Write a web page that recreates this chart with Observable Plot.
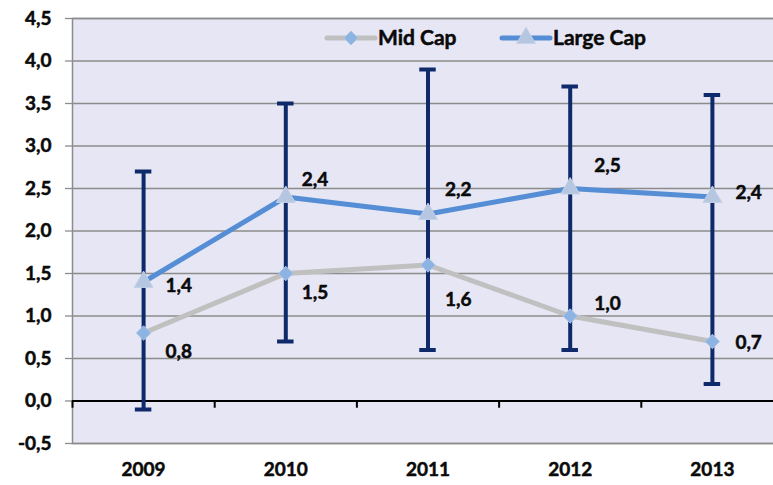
<!DOCTYPE html>
<html><head><meta charset="utf-8">
<script src="https://cdn.jsdelivr.net/npm/d3@7"></script>
<script src="https://cdn.jsdelivr.net/npm/@observablehq/plot@0.6"></script>
<style>
body{margin:0;background:#fff;font-family:Lato,"DejaVu Sans",sans-serif;}
#wrap{position:relative;width:773px;height:485px;overflow:hidden;}
#legend{position:absolute;left:0;top:0;pointer-events:none;}
</style></head><body><div id="wrap"></div>
<script>
const years = ["2009", "2010", "2011", "2012", "2013"];
const midCap = [0.8, 1.5, 1.6, 1.0, 0.7];
const largeCap = [1.4, 2.4, 2.2, 2.5, 2.4];
const rangeLow = [-0.1, 0.7, 0.6, 0.6, 0.2];
const rangeHigh = [2.7, 3.5, 3.9, 3.7, 3.6];
const yTicks = [-0.5, 0, 0.5, 1, 1.5, 2, 2.5, 3, 3.5, 4, 4.5];
const seriesNames = ["Mid Cap", "Large Cap"];

// label placement (pixels) – layout only
const midOffsets = [[22, 19], [16, 19], [17, 35], [24, -12], [23, 1]];
const largeOffsets = [[22, 4], [16, -17], [17, -24], [24, -23], [23, -4]];

const table = years.map((y, i) => ({i, year: y, mid: midCap[i], large: largeCap[i], lo: rangeLow[i], hi: rangeHigh[i]}));
const fmt = v => d3.format(".1f")(v).replace(".", ",").replace("−", "-");

const navy = "#0e2a6a", grey = "#c0c0c0", blue = "#558ed5", gridC = "#8c8c8c";
const ink = "#0a0a0a";

const labelMarks = [];
table.forEach((d, k) => {
  labelMarks.push(Plot.text([d], {x: "i", y: "mid", text: r => fmt(r.mid), dx: midOffsets[k][0], dy: midOffsets[k][1], textAnchor: "start", fontSize: 19, fontWeight: 700, fill: ink, stroke: ink, strokeWidth: 0.5}));
  labelMarks.push(Plot.text([d], {x: "i", y: "large", text: r => fmt(r.large), dx: largeOffsets[k][0], dy: largeOffsets[k][1], textAnchor: "start", fontSize: 19, fontWeight: 700, fill: ink, stroke: ink, strokeWidth: 0.5}));
});

const chart = Plot.plot({
  width: 773, height: 485,
  marginLeft: 72, marginRight: -10, marginTop: 18, marginBottom: 42,
  style: {fontFamily: "Lato, sans-serif", background: "transparent", overflow: "visible"},
  x: {domain: [-0.5, 4.5], axis: null},
  y: {domain: [-0.5, 4.5], axis: null},
  marks: [
    Plot.frame({fill: "#e6e6f4", stroke: gridC, strokeWidth: 1.5}),
    Plot.ruleY(yTicks.filter(v => v !== 0), {stroke: gridC, strokeWidth: 1.3}),
    Plot.axisY(yTicks, {label: null, tickSize: 7, tickPadding: 14, tickFormat: fmt, stroke: gridC, strokeWidth: 1.3, fontSize: 19, fontWeight: 700, fill: ink}),
    Plot.axisX([0, 1, 2, 3, 4], {label: null, tickSize: 0, tickPadding: 19, tickFormat: i => years[i], fontSize: 19, fontWeight: 700, fill: ink}),
    Plot.ruleY([0], {stroke: "#000", strokeWidth: 2}),
    Plot.ruleX([-0.5, 0.5, 1.5, 2.5, 3.5], {y1: 0, y2: -0.085, stroke: "#000", strokeWidth: 2}),
    Plot.ruleX(table, {x: "i", y1: "lo", y2: "hi", stroke: navy, strokeWidth: 4}),
    Plot.ruleY(table, {y: "hi", x1: d => d.i - 0.058, x2: d => d.i + 0.058, stroke: navy, strokeWidth: 4}),
    Plot.ruleY(table, {y: "lo", x1: d => d.i - 0.058, x2: d => d.i + 0.058, stroke: navy, strokeWidth: 4}),
    Plot.line(table, {x: "i", y: "mid", stroke: grey, strokeWidth: 5}),
    Plot.line(table, {x: "i", y: "large", stroke: blue, strokeWidth: 5}),
    Plot.dot(table, {x: "i", y: "mid", symbol: "diamond2", r: 6.5, fill: "#8db3e2", stroke: "#a9c4e8", strokeWidth: 1}),
    Plot.dot(table, {x: "i", y: "large", symbol: "triangle", r: 7, fill: "#b5c6e0", stroke: "#c3d0e6", strokeWidth: 1}),
    ...labelMarks
  ]
});
// thicken axis label glyphs slightly to match heavy reference type
d3.select(chart).selectAll("g[aria-label$='tick label'] text, g[aria-label='y-axis tick label'], g[aria-label='x-axis tick label']").attr("stroke", ink).attr("stroke-width", 0.5);
const wrap = document.getElementById("wrap");
wrap.appendChild(chart);

// legend overlay inside plot area
const leg = d3.select(wrap).append("svg").attr("id", "legend").attr("width", 773).attr("height", 485);
const items = [
  {name: seriesNames[0], x0: 327, color: grey, sym: "diamond"},
  {name: seriesNames[1], x0: 502, color: blue, sym: "triangle"}
];
items.forEach(it => {
  leg.append("line").attr("x1", it.x0).attr("x2", it.x0 + 48).attr("y1", 38).attr("y2", 38).attr("stroke", it.color).attr("stroke-width", 5).attr("stroke-linecap", "round");
  const cx = it.x0 + 24;
  if (it.sym === "diamond") {
    leg.append("path").attr("d", d3.symbol(d3.symbolDiamond2, 125)()).attr("transform", `translate(${cx},38)`).attr("fill", "#8db3e2").attr("stroke", "#a9c4e8");
  } else {
    leg.append("path").attr("d", d3.symbol(d3.symbolTriangle, 150)()).attr("transform", `translate(${cx},38)`).attr("fill", "#b5c6e0").attr("stroke", "#c3d0e6");
  }
  leg.append("text").attr("x", it.x0 + 51).attr("y", 38).attr("dy", "0.35em").attr("font-family", "Lato, sans-serif").attr("font-weight", 700).attr("font-size", 21).attr("fill", ink).attr("stroke", ink).attr("stroke-width", 0.5).text(it.name);
});
</script>
</body></html>
